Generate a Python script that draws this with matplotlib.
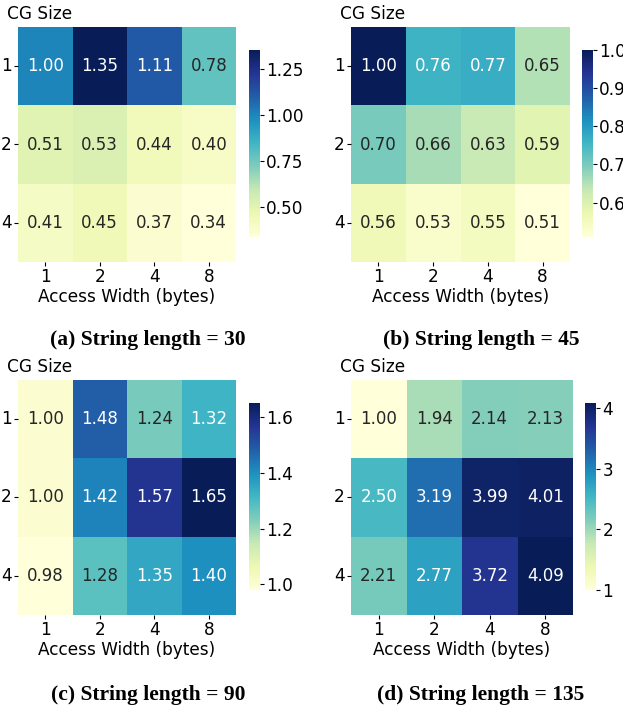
import matplotlib
matplotlib.use("Agg")
import matplotlib.pyplot as plt
import numpy as np
import seaborn as sns

# speedup tables: rows = CG size, cols = access width
cg_sizes = [1, 2, 4]
access_widths = [1, 2, 4, 8]

speedup_30 = [[1.00, 1.35, 1.11, 0.78],
              [0.51, 0.53, 0.44, 0.40],
              [0.41, 0.45, 0.37, 0.34]]
speedup_45 = [[1.00, 0.76, 0.77, 0.65],
              [0.70, 0.66, 0.63, 0.59],
              [0.56, 0.53, 0.55, 0.51]]
speedup_90 = [[1.00, 1.48, 1.24, 1.32],
              [1.00, 1.42, 1.57, 1.65],
              [0.98, 1.28, 1.35, 1.40]]
speedup_135 = [[1.00, 1.94, 2.14, 2.13],
               [2.50, 3.19, 3.99, 4.01],
               [2.21, 2.77, 3.72, 4.09]]

captions = ["(a) String length = 30", "(b) String length = 45",
            "(c) String length = 90", "(d) String length = 135"]
cbar_ticks = [[0.50, 0.75, 1.00, 1.25],
              [0.6, 0.7, 0.8, 0.9, 1.0],
              [1.0, 1.2, 1.4, 1.6],
              [1, 2, 3, 4]]
cbar_fmt = ["%.2f", "%.1f", "%.1f", "%d"]

W, H = 623, 710
fig = plt.figure(figsize=(W / 100, H / 100), dpi=100)


def box(x0, y0, x1, y1):
    # pixel box (top-left origin) -> figure fraction rect
    return [x0 / W, 1 - y1 / H, (x1 - x0) / W, (y1 - y0) / H]


# heatmap box, colorbar box, caption centre (x, y)
layout = [
    (box(18, 27, 236, 262), box(249, 50, 260, 237), (148, 340)),
    (box(351, 27, 570, 262), box(582, 50, 593, 237), (481, 340)),
    (box(18, 380, 236, 615), box(249, 403, 260, 590), (148, 695)),
    (box(351, 380, 573, 615), box(585, 403, 596, 590), (481, 695)),
]

tables = [speedup_30, speedup_45, speedup_90, speedup_135]
fs = 12.2

for i, data in enumerate(tables):
    hm_rect, cb_rect, (cx, cy) = layout[i]
    ax = fig.add_axes(hm_rect)
    cax = fig.add_axes(cb_rect)
    arr = np.array(data)
    sns.heatmap(arr, ax=ax, cbar_ax=cax, cmap="YlGnBu", annot=True, fmt=".2f",
                annot_kws={"fontsize": 12},
                xticklabels=access_widths, yticklabels=cg_sizes,
                cbar_kws={"ticks": cbar_ticks[i], "format": cbar_fmt[i]})
    ax.set_xlabel("Access Width (bytes)", fontsize=fs, labelpad=1)
    ax.set_ylabel("")
    ax.tick_params(axis="both", labelsize=fs, length=3, pad=1.5)
    ax.set_yticklabels(cg_sizes, rotation=0)
    ax.text(-0.05, 1.015, "CG Size", transform=ax.transAxes, fontsize=fs,
            ha="left", va="bottom")
    cax.tick_params(labelsize=fs, length=3, pad=1.5)
    fig.text(cx / W, 1 - cy / H, captions[i], ha="center", va="center",
             fontsize=15.5, fontweight="bold", family="Liberation Serif")

fig.savefig("out.png", dpi=100)
